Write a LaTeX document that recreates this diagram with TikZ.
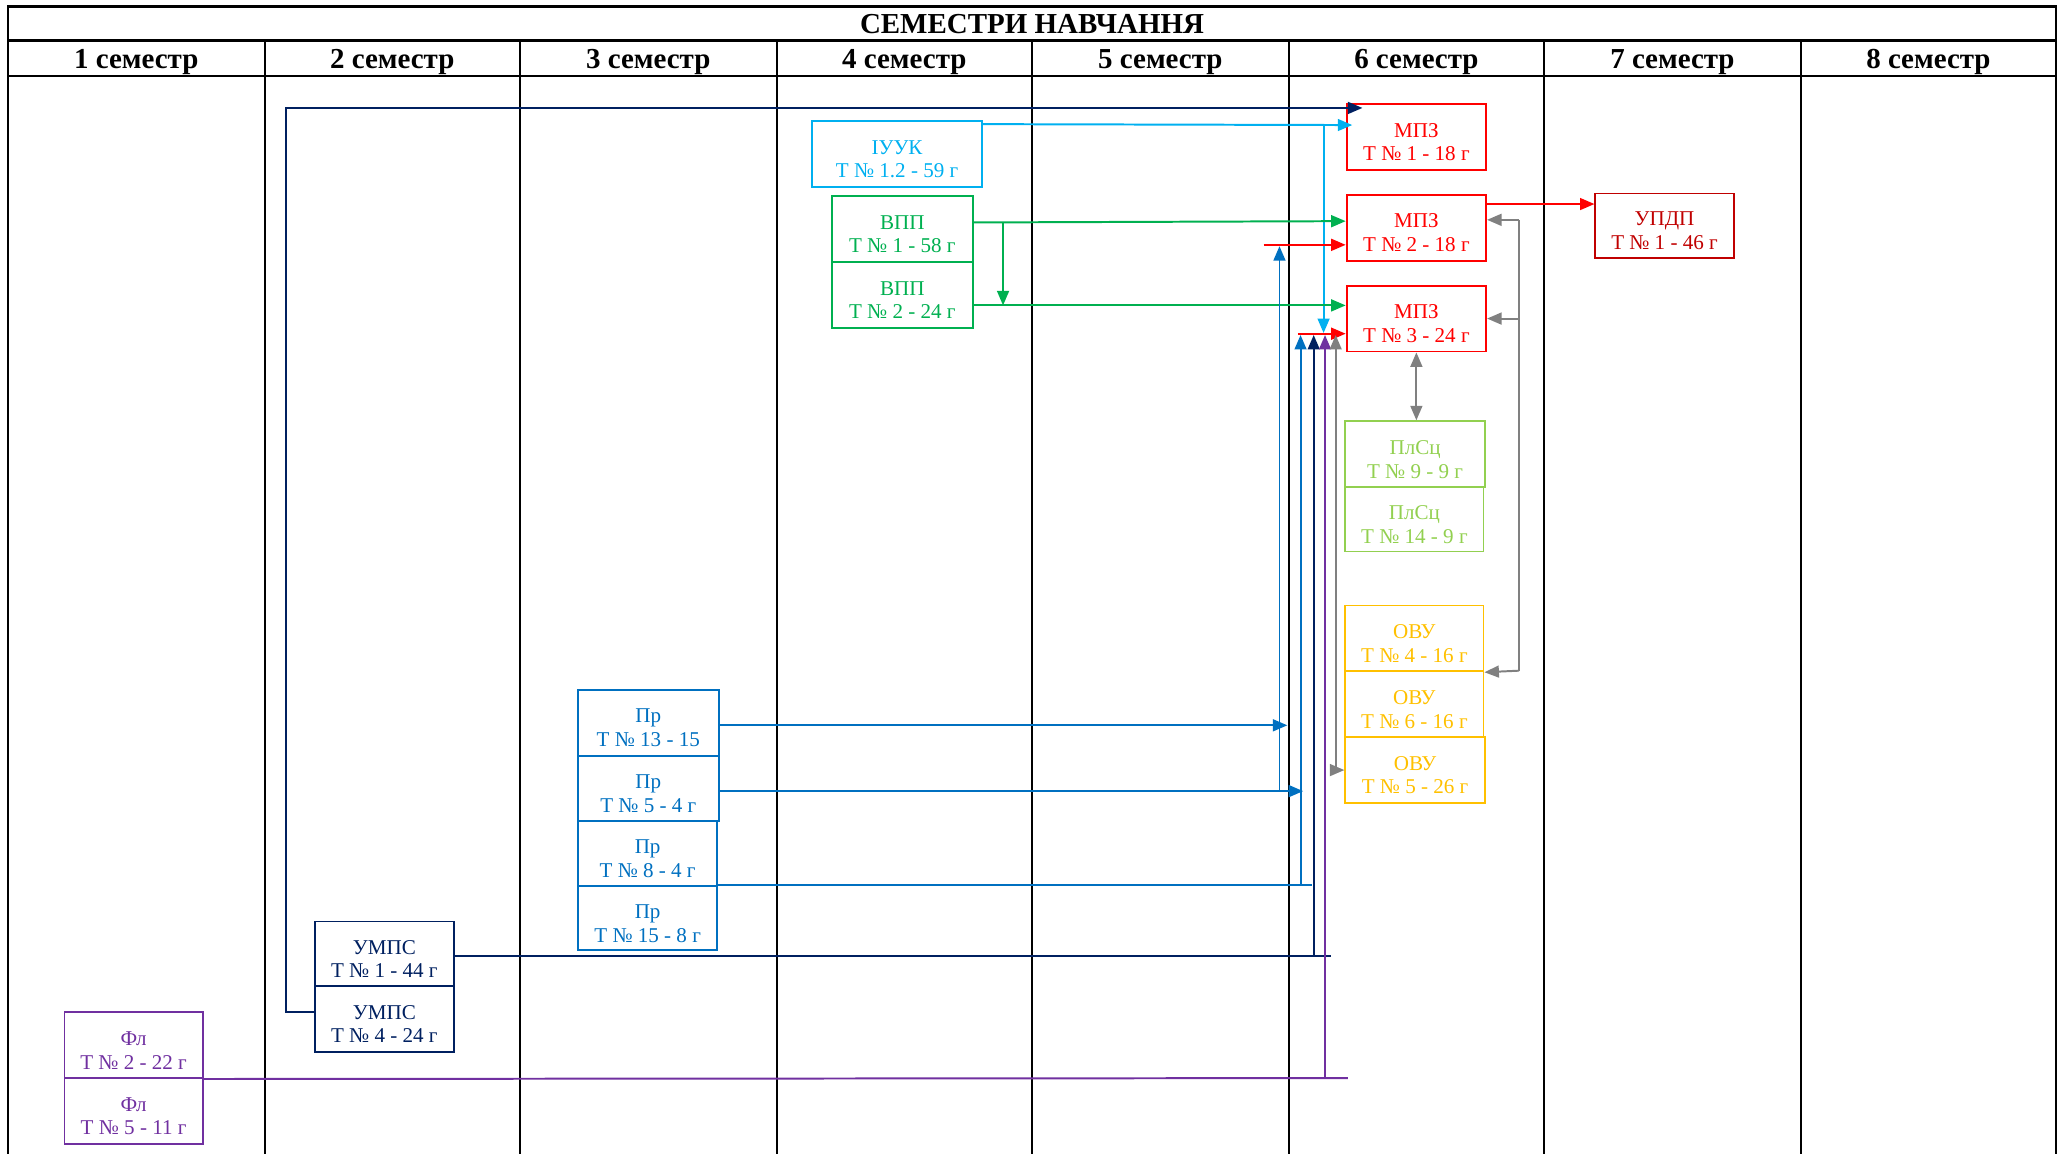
\documentclass[tikz,border=0pt]{standalone}
\usepackage{fontspec}
\setmainfont{Liberation Serif}
\usetikzlibrary{arrows.meta,calc}
\definecolor{cIUUK}{HTML}{00B0F0}
\definecolor{cVPP}{HTML}{00B050}
\definecolor{cMPZ}{HTML}{FF0000}
\definecolor{cUPDP}{HTML}{C00000}
\definecolor{cPLSC}{HTML}{92D050}
\definecolor{cOVU}{HTML}{FFC000}
\definecolor{cPR}{HTML}{0070C0}
\definecolor{cUMPS}{HTML}{002060}
\definecolor{cFL}{HTML}{7030A0}
\definecolor{cGRAY}{HTML}{808080}
\newcommand\bxtext[2]{\rule{0pt}{18.5pt}#1\\#2}
\begin{document}
\begin{tikzpicture}[x=1pt,y=-1pt,
  box/.style={draw=#1, text=#1, line width=1.4pt, minimum width=106pt, minimum height=50pt,
    inner sep=0pt, align=center, font=\fontsize{16}{18}\selectfont},
  con/.style={line width=1.5pt, draw=#1},
  arr/.style={-{Triangle[length=11pt,width=9pt]}},
  darr/.style={{Triangle[length=11pt,width=9pt]}-{Triangle[length=11pt,width=9pt]}},
  grid/.style={line width=1.5pt, draw=black},
  frame/.style={line width=2pt, draw=black},
  head/.style={font=\bfseries\fontsize{22}{22}\selectfont, inner sep=0pt}
  ]
\useasboundingbox (0,0) rectangle (1568,876);
% frame and grid
\draw[frame] (6,877) -- (6,5) -- (1562,5) -- (1562,877);
\draw[frame] (6,31) -- (1562,31);
\draw[grid] (6,58) -- (1562,58);
\foreach \x in {201,395,590,784,979,1173,1368} \draw[grid] (\x,31) -- (\x,877);
\node[head] (title) at (784,18.5) {СЕМЕСТРИ НАВЧАННЯ};
\foreach \i/\x in {1/103.5,2/298,3/492.5,4/687,5/881.5,6/1076,7/1270.5,8/1465}
  \node[head] (h\i) at (\x,47) {\i{} семестр};

% boxes
\node[box=cIUUK, minimum width=129pt] (iuuk) at (681.5,117) {\bxtext{ІУУК}{Т № 1.2 - 59 г}};
\node[box=cVPP, minimum width=107pt] (vpp1) at (685.5,174) {\bxtext{ВПП}{Т № 1 - 58 г}};
\node[box=cVPP, minimum width=107pt] (vpp2) at (685.5,224) {\bxtext{ВПП}{Т № 2 - 24 г}};
\node[box=cMPZ] (mpz1) at (1076,104) {\bxtext{МПЗ}{Т № 1 - 18 г}};
\node[box=cMPZ] (mpz2) at (1076,173) {\bxtext{МПЗ}{Т № 2 - 18 г}};
\node[box=cMPZ] (mpz3) at (1076,242) {\bxtext{МПЗ}{Т № 3 - 24 г}};
\node[box=cUPDP, minimum width=105pt, minimum height=49pt] (updp) at (1264.5,171.5) {\bxtext{УПДП}{Т № 1 - 46 г}};
\node[box=cPLSC] (plsc9) at (1075,345) {\bxtext{ПлСц}{Т № 9 - 9 г}};
\node[box=cPLSC, minimum width=105pt, minimum height=49pt] (plsc14) at (1074.5,394.5) {\bxtext{ПлСц}{Т № 14 - 9 г}};
\node[box=cOVU, minimum width=105pt] (ovu4) at (1074.5,485) {\bxtext{ОВУ}{Т № 4 - 16 г}};
\node[box=cOVU, minimum width=105pt] (ovu6) at (1074.5,535) {\bxtext{ОВУ}{Т № 6 - 16 г}};
\node[box=cOVU] (ovu5) at (1075,585) {\bxtext{ОВУ}{Т № 5 - 26 г}};
\node[box=cPR, minimum width=107pt] (pr13) at (492.5,549) {\bxtext{Пр}{Т № 13 - 15}};
\node[box=cPR, minimum width=107pt] (pr5) at (492.5,599) {\bxtext{Пр}{Т № 5 - 4 г}};
\node[box=cPR, minimum height=49pt] (pr8) at (492,648.5) {\bxtext{Пр}{Т № 8 - 4 г}};
\node[box=cPR, minimum height=49pt] (pr15) at (492,697.5) {\bxtext{Пр}{Т № 15 - 8 г}};
\node[box=cUMPS, minimum height=49pt] (umps1) at (292,724.5) {\bxtext{УМПС}{Т № 1 - 44 г}};
\node[box=cUMPS] (umps4) at (292,774) {\bxtext{УМПС}{Т № 4 - 24 г}};
\node[box=cFL, minimum width=105pt] (fl2) at (101.5,794) {\bxtext{Фл}{Т № 2 - 22 г}};
\node[box=cFL, minimum width=105pt] (fl5) at (101.5,844) {\bxtext{Фл}{Т № 5 - 11 г}};

% junction coordinates
\coordinate (nvA) at (217,769);
\coordinate (nvT) at (1035,82);
\coordinate (lbJ) at (1005.5,95);
\coordinate (gJ) at (762,169);
\coordinate (prV) at (972,601);
\coordinate (pr8V) at (988,672);
\coordinate (pr8E) at (997,672);
\coordinate (umV) at (998,726);
\coordinate (umE) at (1011,726);
\coordinate (flV) at (1006.6,819);
\coordinate (flE) at (1024,819);
\coordinate (grV) at (1014.7,254.5);
\coordinate (grT) at (1154,167);
\coordinate (grB) at (1154,509.5);
\coordinate (redS) at (960,186);
\coordinate (redS3) at (986,253.5);

% navy: УМПС 4 -> МПЗ 1
\draw[con=cUMPS, arr] ($(umps4.west)+(0,-5)$) -- (nvA) |- (nvT);
% light blue: ІУУК -> МПЗ 1, МПЗ 3
\draw[con=cIUUK, arr] ($(iuuk.north east)+(0,3)$) -- ($(mpz1.west)+(5,-9)$);
\draw[con=cIUUK, arr] (lbJ) -- (1005.5,253);
% green: ВПП
\draw[con=cVPP, arr] ($(vpp1.east)+(0,-5)$) -- ($(mpz2.west)+(0,-5)$);
\draw[con=cVPP, arr] (gJ) -- (762,232);
\draw[con=cVPP, arr] ($(vpp2.east)+(0,8)$) -- ($(mpz3.west)+(0,-10)$);
% red
\draw[con=cMPZ, arr] (redS) -- ($(mpz2.west)+(0,13)$);
\draw[con=cMPZ, arr] ($(mpz2.east)+(0,-18)$) -- ($(updp.west)+(0,-16.5)$);
\draw[con=cMPZ, arr] (redS3) -- ($(mpz3.west)+(0,11.5)$);
% blue Пр
\draw[con=cPR, arr] ($(pr13.east)+(0,2)$) -- (978,551);
\draw[con=cPR, arr] ($(pr5.east)+(0,2)$) -- (990,601);
\draw[con=cPR, arr] (prV) -- (972,187);
\draw[con=cPR] ($(pr8.east)+(0,23.5)$) -- (pr8E);
\draw[con=cPR, arr] (pr8V) -- (988,254.5);
% navy УМПС 1
\draw[con=cUMPS] ($(umps1.east)+(0,1.5)$) -- (umE);
\draw[con=cUMPS, arr] (umV) -- (998,254.5);
% purple Фл
\draw[con=cFL] (fl2.south east) -- (flE);
\draw[con=cFL, arr] (flV) -- (1006.6,254.5);
% gray
\draw[con=cGRAY, darr] (grV) |- (ovu5.west);
\draw[con=cGRAY] (grT) -- (grB);
\draw[con=cGRAY, arr] (grT) -- ($(mpz2.east)+(0,-6)$);
\draw[con=cGRAY, arr] (1154,242) -- (mpz3.east);
\draw[con=cGRAY, arr] (grB) -- (ovu4.south east);
\draw[con=cGRAY, darr] (mpz3.south) -- (mpz3.south |- plsc9.north);
\end{tikzpicture}
\end{document}
